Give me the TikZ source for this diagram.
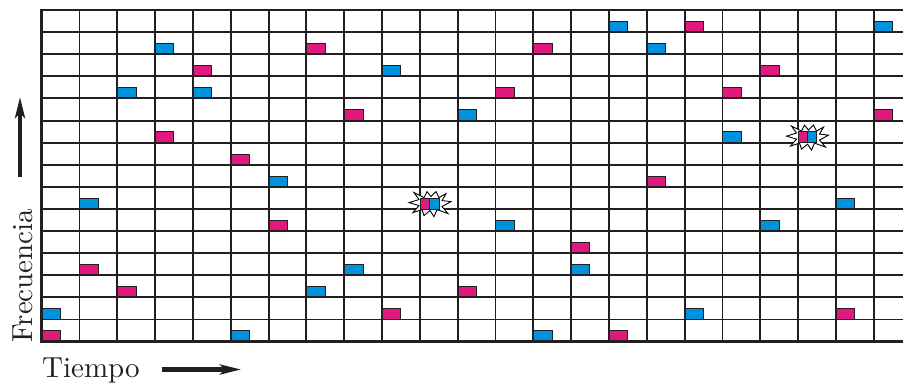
\documentclass[tikz,border=0pt]{standalone}
\usepackage{fontspec}
\newfontfamily\lmtenfont{lmroman10-regular.otf}
\usetikzlibrary{arrows.meta}
\definecolor{fblue}{HTML}{0093DD}
\definecolor{fpink}{HTML}{E0197D}
\definecolor{gline}{HTML}{231F20}
\begin{document}
\begin{tikzpicture}[x=1pt,y=-1pt,
  gridline/.style={draw=gline,line width=1.9pt},
  borderline/.style={draw=gline,line width=2.9pt},
  bluebox/.style={fill=fblue,draw=gline,line width=0.5pt},
  pinkbox/.style={fill=fpink,draw=gline,line width=0.5pt},
  bigarrow/.style={draw=gline,line width=4.5pt,-{Stealth[length=21pt,width=10pt,inset=5pt]}},
  axislabel/.style={font=\lmtenfont\fontsize{29}{32}\selectfont,inner sep=0pt,text=gline},
  burst/.pic={\draw[fill=white,draw=black,line width=0.9pt,line join=miter]
     (-21,-1) -- (-11,-4) -- (-16,-11) -- (-6,-6) -- (-3,-12) -- (1,-7) -- (6,-12)
     -- (9,-6) -- (16,-10) -- (12,-3) -- (21,-2) -- (12,3) -- (18,10) -- (7,6)
     -- (4,13) -- (0,7) -- (-6,12) -- (-8,6) -- (-17,9) -- (-11,2) -- cycle;}]
\useasboundingbox (0,0) rectangle (903,383);
% boxes
\foreach \c/\r in {3/1,2/3,4/3,6/7,1/8,0/13,5/14,9/2,11/4,12/9,8/11,7/12,14/11,13/14,15/0,16/1,17/13,18/5,19/9,21/8,22/0}
  \draw[bluebox] ({41.7+37.82*\c},{10+22.11*(\r+1)-11}) rectangle +(18.5,11);
\foreach \c/\r in {4/2,3/5,5/6,6/9,1/11,2/12,0/14,7/1,8/4,9/13,12/3,11/12,13/1,14/10,15/14,17/0,16/7,19/2,18/3,21/13,22/4}
  \draw[pinkbox] ({41.7+37.82*\c},{10+22.11*(\r+1)-11}) rectangle +(18.5,11);
% grid
\foreach \i in {1,...,22}
  \draw[gridline] ({41.7+37.82*\i},10) -- ({41.7+37.82*\i},341.7);
\foreach \j in {1,...,14}
  \draw[gridline] (41.7,{10+22.11*\j}) -- (903,{10+22.11*\j});
\draw[borderline] (903,10) -- (41.7,10) -- (41.7,341.7) -- (903,341.7);
% collisions
\pic at (430,203.6) {burst};
\draw[pinkbox] (420.2,198.1) rectangle (429.6,209.1);
\draw[bluebox] (429.6,198.1) rectangle (439.2,209.1);
\pic at (807.5,137.1) {burst};
\draw[pinkbox] (798.4,131.6) rectangle (807.3,142.6);
\draw[bluebox] (807.3,131.6) rectangle (816.6,142.6);
% labels
\node[axislabel,anchor=base west] (tiempo) at (42,377.7) {Tiempo};
\node[axislabel,anchor=base west,rotate=90] (freq) at (32,343) {Frecuencia};
\coordinate (ta) at (161.5,369.5);
\coordinate (tb) at (241,369.5);
\coordinate (fa) at (20,177);
\coordinate (fb) at (20,97);
\draw[bigarrow] (ta) -- (tb);
\draw[bigarrow] (fa) -- (fb);
\end{tikzpicture}
\end{document}
